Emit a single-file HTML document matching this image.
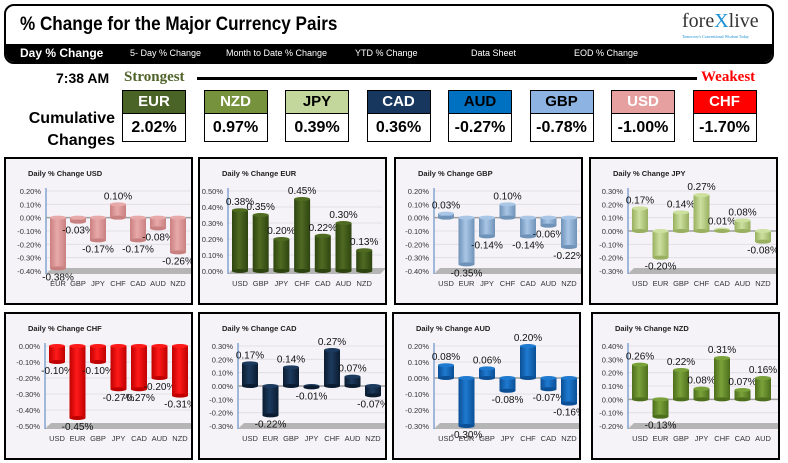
<!DOCTYPE html>
<html><head><meta charset="utf-8">
<style>
body{margin:0;width:788px;height:463px;background:#fff;position:relative;overflow:hidden;font-family:"Liberation Sans",sans-serif}
.abs{position:absolute}
#hdr{left:4px;top:4px;width:766px;height:56px;border:2px solid #000;border-radius:10px;overflow:hidden;background:#fff}
#title{left:14px;top:8px;font-family:"Liberation Sans Narrow","Liberation Sans",sans-serif;font-weight:bold;font-size:19px;transform:scaleX(.9);transform-origin:left}
#nav{left:0;top:38px;width:766px;height:18px;background:#000;color:#fff}
.nav{position:absolute;top:4px;font-size:9px;white-space:nowrap}
.cur{position:absolute;width:62px;border:1px solid #000}
.cur .h{height:22px;line-height:22px;text-align:center;font-family:"Liberation Sans Narrow","Liberation Sans",sans-serif;font-weight:bold;font-size:15px;border-bottom:1px solid #000}
.cur .v{height:27px;line-height:27px;text-align:center;font-family:"Liberation Sans Narrow","Liberation Sans",sans-serif;font-weight:bold;font-size:16px;background:#fff}
.panel{position:absolute;border:2px solid #000;background:#f5f3f7;width:185px;height:144px}
.panel svg{position:absolute;left:0;top:0}
</style></head><body>
<div id="hdr" class="abs">
  <div id="title" class="abs">% Change for the Major Currency Pairs</div>
  <div class="abs" style="left:676px;top:4px;font-family:'Liberation Serif',serif;font-size:20px;color:#333">fore<span style="color:#1a8fd6">X</span>live</div>
  <div class="abs" style="left:676px;top:28px;font-size:4px;color:#1a8fd6;font-family:'Liberation Serif',serif">Tomorrow's Conventional Wisdom Today</div>
  <div id="nav" class="abs">
    <div class="nav" style="left:14px;top:2px;font-size:12px;font-weight:bold">Day % Change</div>
    <div class="nav" style="left:124px">5- Day % Change</div>
    <div class="nav" style="left:220px">Month to Date % Change</div>
    <div class="nav" style="left:349px">YTD % Change</div>
    <div class="nav" style="left:465px">Data Sheet</div>
    <div class="nav" style="left:568px">EOD % Change</div>
  </div>
</div>
<div class="abs" style="left:56px;top:70px;font-family:'Liberation Sans Narrow','Liberation Sans',sans-serif;font-weight:bold;font-size:14px">7:38 AM</div>
<div class="abs" style="left:124px;top:69px;font-family:'Liberation Serif',serif;font-weight:bold;font-size:15px;color:#4f6228">Strongest</div>
<div class="abs" style="left:197px;top:77px;width:500px;height:3px;background:#000"></div>
<div class="abs" style="left:701px;top:69px;font-family:'Liberation Serif',serif;font-weight:bold;font-size:15px;color:#f00">Weakest</div>
<div class="abs" style="left:20px;top:108px;width:95px;text-align:right;font-family:'Liberation Sans Narrow','Liberation Sans',sans-serif;font-weight:bold;font-size:16px;line-height:22px">Cumulative<br>Changes</div>
<div id="curs"></div>
<div id="panels"></div>
<script>
const curNames=["EUR","NZD","JPY","CAD","AUD","GBP","USD","CHF"];
const curValues=["2.02%","0.97%","0.39%","0.36%","-0.27%","-0.78%","-1.00%","-1.70%"];
const curColors=["#4a6326","#76923c","#c3d69b","#17375e","#0070c0","#8db3e2","#e6a0a0","#ff0000"];
const curText=["#fff","#fff","#000","#fff","#000","#000","#fff","#fff"];
const cc=document.getElementById('curs');
curNames.forEach((n,i)=>{
  const d=document.createElement('div');d.className='cur';
  
  
  d.style.left=(122+i*81.5)+'px';d.style.top='90px';
  d.innerHTML='<div class="h" style="background:'+curColors[i]+';color:'+curText[i]+'">'+n+'</div><div class="v">'+curValues[i]+'</div>';
  cc.appendChild(d);
});

const usdCats=["EUR","GBP","JPY","CHF","CAD","AUD","NZD"], usdVals=[-0.38,-0.03,-0.17,0.10,-0.17,-0.08,-0.26], usdTicks=[0.2,0.1,0,-0.1,-0.2,-0.3,-0.4];
const eurCats=["USD","GBP","JPY","CHF","CAD","AUD","NZD"], eurVals=[0.38,0.35,0.20,0.45,0.22,0.30,0.13], eurTicks=[0.5,0.4,0.3,0.2,0.1,0];
const gbpCats=["USD","EUR","JPY","CHF","CAD","AUD","NZD"], gbpVals=[0.03,-0.35,-0.14,0.10,-0.14,-0.06,-0.22], gbpTicks=[0.2,0.1,0,-0.1,-0.2,-0.3,-0.4];
const jpyCats=["USD","EUR","GBP","CHF","CAD","AUD","NZD"], jpyVals=[0.17,-0.20,0.14,0.27,0.01,0.08,-0.08], jpyTicks=[0.3,0.2,0.1,0,-0.1,-0.2,-0.3];
const chfCats=["USD","EUR","GBP","JPY","CAD","AUD","NZD"], chfVals=[-0.10,-0.45,-0.10,-0.27,-0.27,-0.20,-0.31], chfTicks=[0,-0.1,-0.2,-0.3,-0.4,-0.5];
const cadCats=["USD","EUR","GBP","JPY","CHF","AUD","NZD"], cadVals=[0.17,-0.22,0.14,-0.01,0.27,0.07,-0.07], cadTicks=[0.3,0.2,0.1,0,-0.1,-0.2,-0.3];
const audCats=["USD","EUR","GBP","JPY","CHF","CAD","NZD"], audVals=[0.08,-0.30,0.06,-0.08,0.20,-0.07,-0.16], audTicks=[0.2,0.1,0,-0.1,-0.2,-0.3];
const nzdCats=["USD","EUR","GBP","JPY","CHF","CAD","AUD"], nzdVals=[0.26,-0.13,0.22,0.08,0.31,0.07,0.16], nzdTicks=[0.4,0.3,0.2,0.1,0,-0.1,-0.2];

const panels=[
 {c:"USD",cats:usdCats,vals:usdVals,ticks:usdTicks,col:"#e8a9a9",dark:"#c98080",x:4,y:157,ax:40,st:20},
 {c:"EUR",cats:eurCats,vals:eurVals,ticks:eurTicks,col:"#4f6b22",dark:"#2e4410",x:198,y:157,ax:28,st:20.7},
 {c:"GBP",cats:gbpCats,vals:gbpVals,ticks:gbpTicks,col:"#a9c6e6",dark:"#6f92b8",x:394,y:157,ax:38,st:20.5},
 {c:"JPY",cats:jpyCats,vals:jpyVals,ticks:jpyTicks,col:"#cde0a0",dark:"#98b060",x:589,y:157,ax:37,st:20.5},
 {c:"CHF",cats:chfCats,vals:chfVals,ticks:chfTicks,col:"#ff1a1a",dark:"#c00000",x:4,y:312,ax:39,st:20.5},
 {c:"CAD",cats:cadCats,vals:cadVals,ticks:cadTicks,col:"#1c3a5e",dark:"#0b1c30",x:198,y:312,ax:38,st:20.5},
 {c:"AUD",cats:audCats,vals:audVals,ticks:audTicks,col:"#1f7ad0",dark:"#0b4f96",x:392,y:312,ax:40,st:20.5},
 {c:"NZD",cats:nzdCats,vals:nzdVals,ticks:nzdTicks,col:"#7aa23a",dark:"#4d6e1c",x:591,y:312,ax:35,st:20.5}
];
const NS="http://www.w3.org/2000/svg";
function el(t,a,p){const e=document.createElementNS(NS,t);for(const k in a)e.setAttribute(k,a[k]);p.appendChild(e);return e;}
const pc=document.getElementById('panels');
panels.forEach(P=>{
  const d=document.createElement('div');d.className='panel';
  
  
  d.style.left=P.x+'px';d.style.top=P.y+'px';pc.appendChild(d);
  const s=el('svg',{width:185,height:144},d);
  const defs=el('defs',{},s);
  const g=el('linearGradient',{id:'g'+P.c,x1:0,x2:1,y1:0,y2:0},defs);
  el('stop',{offset:'0',['stop-color']:P.dark},g);el('stop',{offset:'0.45',['stop-color']:P.col},g);el('stop',{offset:'1',['stop-color']:P.dark},g);
  const t=el('text',{x:22,y:17,['font-size']:'7.5',['font-weight']:'bold',fill:'#222'},s);t.textContent='Daily % Change '+P.c;
  
  
  const maxV=P.ticks[0],minV=P.ticks[P.ticks.length-1],top=32,bot=112;
  const yS=v=>top+(maxV-v)/(maxV-minV)*(bot-top);
  const xS=i=>P.ax+12+i*P.st;
  const right=xS(P.cats.length-1)+12;
  P.ticks.forEach(v=>{
    el('line',{x1:P.ax,x2:right+6,y1:yS(v),y2:yS(v),stroke:'#e2e0e6','stroke-width':1},s);
    const tl=el('text',{x:P.ax-5,y:yS(v)+3,['font-size']:'7.5','text-anchor':'end',fill:'#333'},s);
    tl.textContent=v.toFixed(2)+'%';
    
    
  });
  el('polygon',{points:`${P.ax},${bot+3} ${P.ax+6},${bot-3} ${right+10},${bot-3} ${right+4},${bot+3}`,fill:'#b5b5b5'},s);
  el('line',{x1:P.ax,x2:P.ax,y1:top-3,y2:bot+3,stroke:'#4a7ebb','stroke-width':1},s);
  if(minV<0&&maxV>0) el('line',{x1:P.ax,x2:right+6,y1:yS(0),y2:yS(0),stroke:'#a0a0a0','stroke-width':1.5},s);
  P.cats.forEach((c,i)=>{
    const v=P.vals[i],cx=xS(i),y0=yS(0),y1=yS(v),ty=Math.min(y0,y1),h=Math.max(Math.abs(y1-y0),1);
    const r=el('rect',{x:cx-8,y:ty,width:16,height:h,fill:'url(#g'+P.c+')'},s);
    
    
    el('ellipse',{cx:cx,cy:ty,rx:8,ry:2,fill:P.col},s);
    el('ellipse',{cx:cx,cy:ty+h,rx:8,ry:2,fill:P.dark},s);
    const vl=el('text',{x:cx,y:v>=0?y1-5:y1+12,['font-size']:'10','text-anchor':'middle',fill:'#111'},s);
    vl.textContent=v.toFixed(2)+'%';
    
    
    const cl=el('text',{x:cx,y:127,['font-size']:'7.5','text-anchor':'middle',fill:'#333'},s);
    cl.textContent=c;
    
    
  });
});
</script>
</body></html>
